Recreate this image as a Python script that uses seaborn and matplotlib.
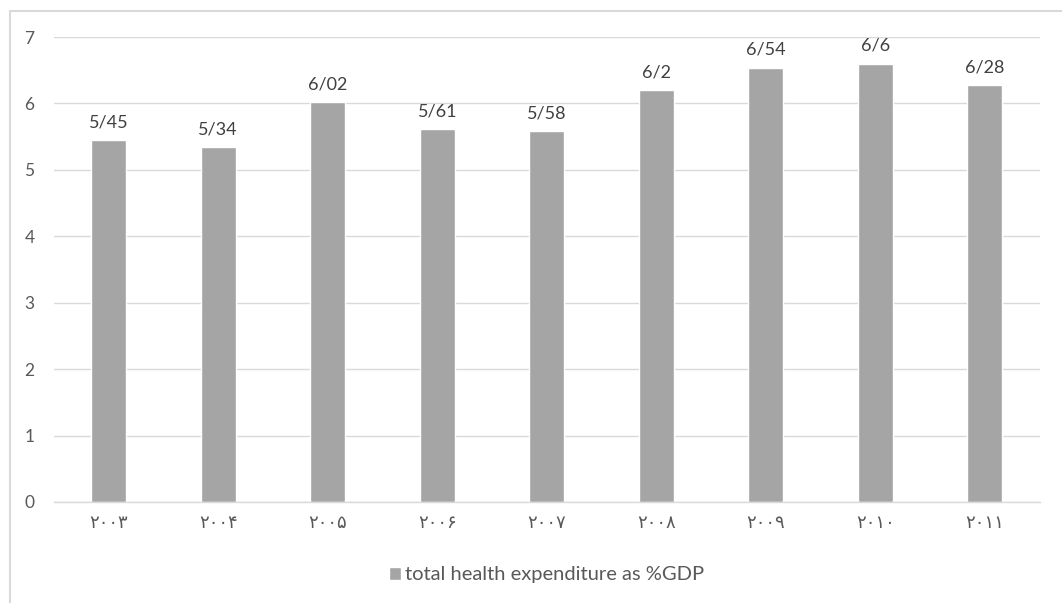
import matplotlib
matplotlib.use("Agg")
import matplotlib.pyplot as plt
from matplotlib.patches import Rectangle
import seaborn as sns
import pandas as pd

# Health spending as a share of GDP, 2003-2011
years = ["۲۰۰۳", "۲۰۰۴", "۲۰۰۵", "۲۰۰۶", "۲۰۰۷", "۲۰۰۸", "۲۰۰۹", "۲۰۱۰", "۲۰۱۱"]
values = [5.45, 5.34, 6.02, 5.61, 5.58, 6.2, 6.54, 6.6, 6.28]
value_labels = ["5/45", "5/34", "6/02", "5/61", "5/58", "6/2", "6/54", "6/6", "6/28"]
y_ticks = [0, 1, 2, 3, 4, 5, 6, 7]
series_name = "total health expenditure as %GDP"

sns.set_theme(style="white")
plt.rcParams["font.family"] = ["Lato", "DejaVu Sans"]

df = pd.DataFrame({"year": years, "value": values})

fig = plt.figure(figsize=(10.62, 6.03), dpi=100)
ax = fig.add_axes([0.0508, 0.1675, 0.9282, 0.7711])

bar_color = "#A5A5A5"
sns.barplot(data=df, x="year", y="value", color=bar_color, width=0.32,
            saturation=1, ax=ax, label=series_name)

ax.set_ylim(0, 7)
ax.set_xlim(-0.5, len(years) - 0.5)
ax.set_yticks(y_ticks)
ax.yaxis.grid(True, color="#D9D9D9", linewidth=1)
ax.set_axisbelow(True)
for side in ["top", "right", "left"]:
    ax.spines[side].set_visible(False)
ax.spines["bottom"].set_color("#D9D9D9")
ax.spines["bottom"].set_linewidth(1)
ax.tick_params(axis="both", length=0)
ax.tick_params(axis="y", labelsize=12.5, labelcolor="#595959", pad=14)
ax.tick_params(axis="x", labelsize=13, labelcolor="#595959", pad=9)
for t in ax.get_xticklabels():
    t.set_family(["DejaVu Sans"])
ax.set_xlabel("")
ax.set_ylabel("")

ax.bar_label(ax.containers[0], labels=value_labels, padding=7,
             fontsize=13, color="#404040")

leg = ax.legend(loc="center", bbox_to_anchor=(0.5, -0.157), frameon=False,
                fontsize=14.5, handlelength=0.6, handleheight=0.6,
                handletextpad=0.2)
for text in leg.get_texts():
    text.set_color("#595959")

# Chart frame
fig.patches.append(Rectangle((10 / 1062, -0.05), 1.1, 1 - 11 / 603 + 0.05,
                             transform=fig.transFigure, fill=False,
                             edgecolor="#D9D9D9", linewidth=1.5))

fig.savefig("out.png", dpi=100, facecolor="white")
